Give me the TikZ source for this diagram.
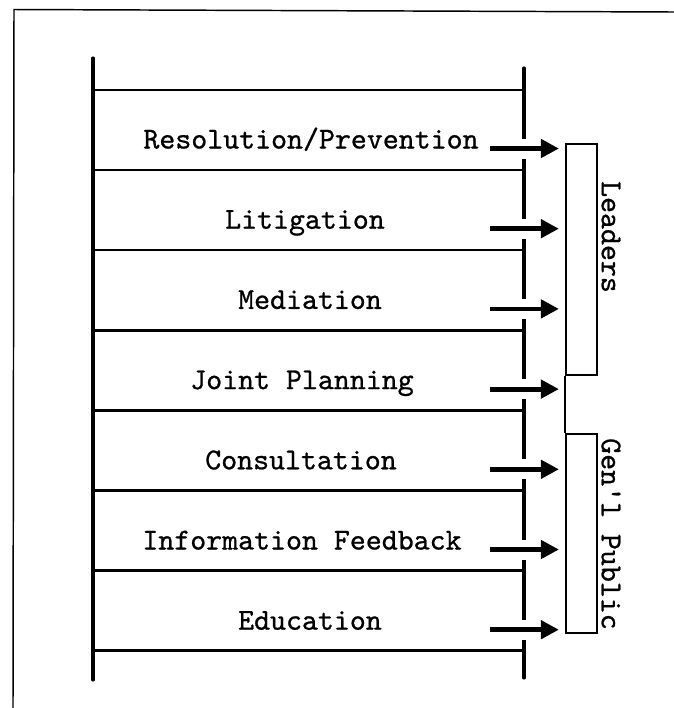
\documentclass[tikz,border=0pt]{standalone}
\usepackage{fontspec}
\setmonofont{lmmono10-regular.otf}[FakeBold=0.8]
\usetikzlibrary{arrows.meta,positioning,calc}

\begin{document}
\begin{tikzpicture}[
  x=0.75pt, y=-0.75pt,
  font=\ttfamily\fontsize{22.8}{26}\selectfont,
  frame/.style={line width=1.1pt},
  rail/.style={line width=2.3pt, line cap=round},
  rung/.style={line width=1.9pt},
  tier/.style={anchor=base, inner sep=0pt},
  flow/.style={-{Triangle[length=13.5pt, width=13.5pt]}, line width=3.6pt, shorten >=4.5pt,
               preaction={draw=white, line width=15pt, arrows=-, shorten >=22pt}},
  group/.style={draw, line width=1.6pt, minimum width=23.25pt, inner sep=0pt},
  grouplabel/.style={rotate=-90, inner sep=0pt},
]

% --- Page frame ---
\useasboundingbox (0,0) rectangle (674,708);
\draw[frame] (674,12) -- (14,9.5) -- (13,708);

% --- Ladder rails and rungs ---
\draw[rail] (93,58) -- (93,680);
\draw[rail] (524,68) -- (524,678);
\foreach \k in {0,...,7}
  \draw[rung] (93,90+80.1*\k) -- (524,90+80.1*\k);

% --- Audience groups ---
\node[group, minimum height=173.25pt] (leaders) at (581.5,259.5) {};
\node[group, minimum height=149.25pt] (public) at (581.5,533.5) {};
\draw[line width=1.6pt] (leaders.south west) -- (public.north west);
\node[grouplabel] (leaderslbl) at (611,237) {Leaders};
\node[grouplabel] (publiclbl) at (611,534) {Gen\textquotesingle l Public};

% --- Tiers and arrows ---
\foreach \i/\xc/\txt [evaluate=\i as \yb using 148.5+80.2*\i] in {
    0/311/{Resolution/Prevention}, 1/305/Litigation, 2/310/Mediation,
    3/302/Joint Planning, 4/301/Consultation, 5/302/Information Feedback,
    6/310/Education} {
  \node[tier] (t\i) at (\xc,\yb) {\txt};
  \coordinate (s\i) at (490,\yb);
  \draw[flow] (s\i) -- (s\i -| leaders.west);
}

\end{tikzpicture}
\end{document}
